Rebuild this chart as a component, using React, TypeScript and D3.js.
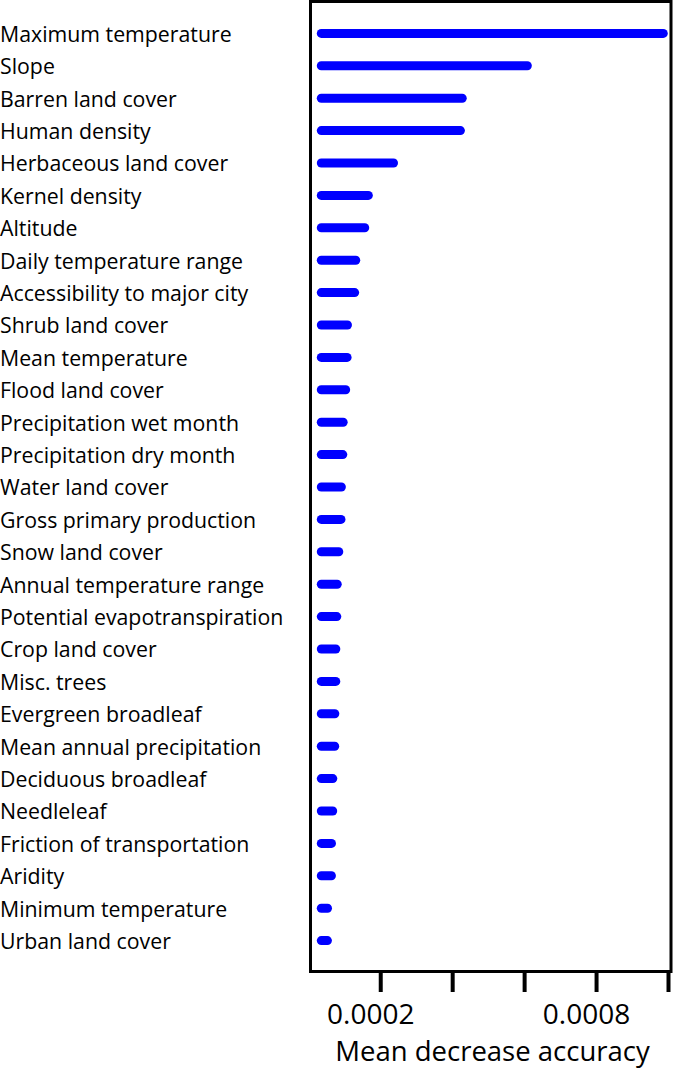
import React from "react";
import * as d3 from "d3";

const categories = [
  "Maximum temperature",
  "Slope",
  "Barren land cover",
  "Human density",
  "Herbaceous land cover",
  "Kernel density",
  "Altitude",
  "Daily temperature range",
  "Accessibility to major city",
  "Shrub land cover",
  "Mean temperature",
  "Flood land cover",
  "Precipitation wet month",
  "Precipitation dry month",
  "Water land cover",
  "Gross primary production",
  "Snow land cover",
  "Annual temperature range",
  "Potential evapotranspiration",
  "Crop land cover",
  "Misc. trees",
  "Evergreen broadleaf",
  "Mean annual precipitation",
  "Deciduous broadleaf",
  "Needleleaf",
  "Friction of transportation",
  "Aridity",
  "Minimum temperature",
  "Urban land cover",
];

const values = [
  0.000998, 0.00062, 0.000439, 0.000434, 0.000248, 0.000178, 0.000168,
  0.000143, 0.00014, 0.00012, 0.000119, 0.000115, 0.000108, 0.000107,
  0.000103, 0.000102, 0.0000959, 0.0000915, 0.0000903, 0.0000876,
  0.0000875, 0.0000848, 0.0000845, 0.0000792, 0.000079, 0.0000756,
  0.0000754, 0.0000645, 0.0000643,
];

const tickValues = [0.0002, 0.0004, 0.0006, 0.0008, 0.001];
const tickLabels = ["0.0002", "", "", "0.0008", ""];
const xTitle = "Mean decrease accuracy";

const W = 677;
const H = 1074;
const FONT = "'Open Sans', sans-serif";

export default function App() {
  const x = d3.scaleLinear().domain([0, 0.001]).range([308.8, 668.5]);
  const y = d3.scalePoint<string>().domain(categories).range([33.4, 940.6]);

  const frameLeft = 310.5;
  const frameRight = 671;
  const frameTop = 1.5;
  const frameBottom = 971.5;
  const barH = 9;
  const barStart = x(0) + 8;

  return (
    <svg
      width={W}
      height={H}
      style={{ position: "absolute", left: 0, top: 0, background: "#fff" }}
      fontFamily={FONT}
    >
      <rect x={0} y={0} width={W} height={H} fill="#fff" />
      {categories.map((c) => (
        <text key={"l" + c} x={0} y={(y(c) as number) + 8.3} fontSize={21.3} fill="#000">
          {c}
        </text>
      ))}
      {categories.map((c, i) => {
        const x2 = x(values[i]);
        return (
          <rect
            key={"b" + c}
            x={barStart}
            y={(y(c) as number) - barH / 2}
            width={Math.max(x2 - barStart, barH)}
            height={barH}
            rx={4.5}
            ry={4.5}
            fill="#0000ff"
          />
        );
      })}
      <rect
        x={frameLeft}
        y={frameTop}
        width={frameRight - frameLeft}
        height={frameBottom - frameTop}
        fill="none"
        stroke="#000"
        strokeWidth={3}
      />
      {tickValues.map((t, i) => (
        <g key={"t" + i}>
          <line
            x1={x(t)}
            x2={x(t)}
            y1={frameBottom}
            y2={992}
            stroke="#000"
            strokeWidth={4}
          />
          {tickLabels[i] && (
            <text x={x(t) - 10} y={1024} fontSize={28} textAnchor="middle" fill="#000">
              {tickLabels[i]}
            </text>
          )}
        </g>
      ))}
      <text x={492.5} y={1061} fontSize={27.5} textAnchor="middle" fill="#000">
        {xTitle}
      </text>
    </svg>
  );
}
